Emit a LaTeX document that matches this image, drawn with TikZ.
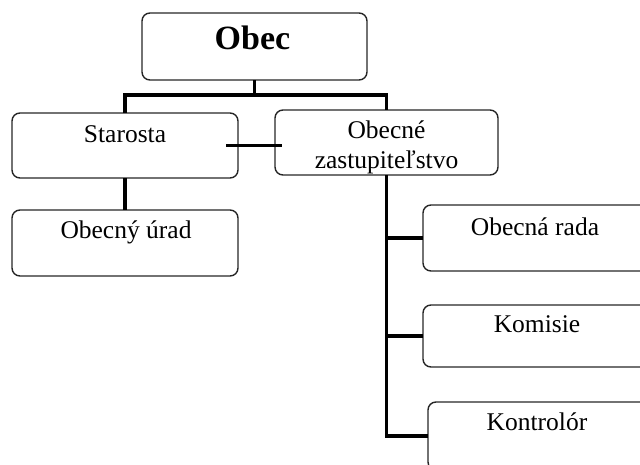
\documentclass[tikz,border=0pt]{standalone}
\usepackage{fontspec}
\setmainfont{Liberation Serif}
\usetikzlibrary{calc}
\begin{document}
\begin{tikzpicture}[x=1pt,y=-1pt,
  box/.style={draw=black!85, line width=1.4pt, rounded corners=8pt, inner sep=0pt, outer sep=0pt},
  conn/.style={line width=3.2pt, black},
  lbl/.style={inner sep=0pt, anchor=base, align=center, font=\fontsize{25.5}{30}\selectfont},
  title/.style={lbl, font=\fontsize{34}{36}\selectfont\bfseries},
]
\useasboundingbox (0,0) rectangle (640,464);
\clip (0,0) rectangle (640,464);

% organisation boxes
\node[box, minimum width=225pt, minimum height=67pt] (obec)    at (254.5,46.5) {};
\node[box, minimum width=226pt, minimum height=65pt] (star)    at (125,145.5) {};
\node[box, minimum width=223pt, minimum height=65pt] (zast)    at (386.5,142.5) {};
\node[box, minimum width=226pt, minimum height=66pt] (urad)    at (125,243) {};
\node[box, minimum width=257pt, minimum height=66pt] (rada)    at (551.5,238) {};
\node[box, minimum width=257pt, minimum height=62pt] (komisie) at (551.5,336) {};
\node[box, minimum width=252pt, minimum height=68pt] (kontrol) at (554,436) {};

% box labels (two-line label is placed by the baseline of its last line)
\node[title] (obecT) at ($(obec.north)+(-2,36)$) {Obec};
\node[lbl] (starT) at ($(star.north)+(0,29)$) {Starosta};
\node[lbl] (zastT) at ($(zast.north)+(0,58)$) {Obecné\\zastupiteľstvo};
\node[lbl] (uradT) at ($(urad.north)+(1,28)$) {Obecný úrad};
\node[lbl] (radaT) at ($(rada.north west)+(112,30)$) {Obecná rada};
\node[lbl] (komisieT) at ($(komisie.north west)+(114,27)$) {Komisie};
\node[lbl] (kontrolT) at ($(kontrol.north west)+(109,28)$) {Kontrolór};

% connectors
\draw[conn] (obec.south) -- ++(0,15);
\draw[conn] (star.north) -- ++(0,-18) -| (zast.north);
\draw[conn] ($(star.east)+(-12,0)$) -- ($(star.east -| zast.west)+(7,0)$);
\draw[conn] (star.south) -- (urad.north);
\draw[conn] (zast.south) -- (zast.south |- kontrol.west) -- (kontrol.west);
\draw[conn] (zast.south |- rada.west) -- (rada.west);
\draw[conn] (zast.south |- komisie.west) -- (komisie.west);
\end{tikzpicture}
\end{document}
